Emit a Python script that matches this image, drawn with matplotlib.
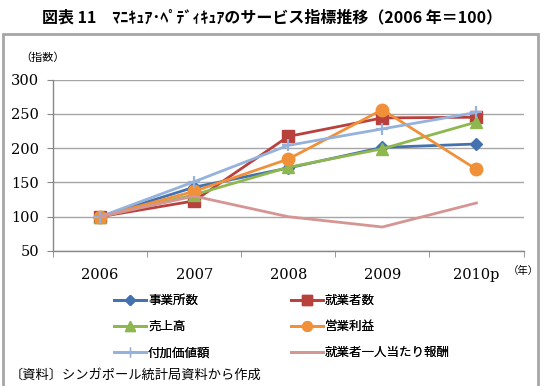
import matplotlib
matplotlib.use("Agg")
import matplotlib.pyplot as plt
from matplotlib.patches import Rectangle
from matplotlib.lines import Line2D

years = ["2006", "2007", "2008", "2009", "2010p"]
series_names = ["事業所数", "就業者数", "売上高", "営業利益", "付加価値額", "就業者一人当たり報酬"]
establishments = [100, 143, 171, 201, 206]
employees = [100, 123, 217, 244, 245]
sales = [100, 132, 172, 199, 238]
operating_profit = [100, 137, 184, 256, 169]
value_added = [100, 151, 204, 228, 252]
pay_per_worker = [100, 130, 100, 85, 120]
y_ticks = [50, 100, 150, 200, 250, 300]

series = [establishments, employees, sales, operating_profit, value_added, pay_per_worker]
colors = ["#4472B0", "#B8413E", "#8FB74F", "#F0913A", "#94B2DC", "#D59593"]
markers = ["D", "s", "^", "o", "+", None]
msizes = [6, 8, 8, 9, 9, 0]

JP = ["Noto Sans CJK JP", "DejaVu Sans"]
SERIF = ["DejaVu Serif"]

fig = plt.figure(figsize=(5.45, 3.86), dpi=100)
fig.patch.set_facecolor("white")

# outer frame
fig.patches.append(Rectangle((3/545, -0.01), (538-3)/545, 1 - 34/386 + 0.01,
                             transform=fig.transFigure, fill=False,
                             edgecolor="#a6a6a6", linewidth=2.0))

fig.text(0.5, 1 - 17/386, "図表 11　ﾏﾆｷｭｱ･ﾍﾟﾃﾞｨｷｭｱのサービス指標推移（2006 年＝100）",
         ha="center", va="center", fontsize=11.5, fontweight="bold", family=JP)

ax = fig.add_axes([53/545, 1 - 251/386, (523.5-53)/545, (251-79.5)/386])
x = list(range(len(years)))
for vals, c, m, ms, name in zip(series, colors, markers, msizes, series_names):
    mew = 1.6 if m == "+" else 1.0
    ax.plot(x, vals, color=c, linewidth=2.0, marker=m, markersize=ms,
            markeredgecolor=c, markerfacecolor=c, markeredgewidth=mew, label=name)

ax.set_xlim(-0.5, 4.5)
ax.set_ylim(50, 300)
ax.set_yticks(y_ticks)
ax.set_yticklabels([str(v) for v in y_ticks], family=SERIF, fontsize=10.5)
ax.set_xticks(x)
ax.set_xticklabels(years, family=SERIF, fontsize=10.5)
ax.set_xticks([i - 0.5 for i in range(len(years) + 1)], minor=True)
ax.tick_params(axis="x", which="major", length=0, pad=12)
ax.tick_params(axis="x", which="minor", length=4, color="#888888", direction="out")
ax.tick_params(axis="y", length=4, color="#888888", direction="out", pad=6)
ax.grid(axis="y", color="#a6a6a6", linewidth=1.0)
ax.set_axisbelow(True)
for s in ["top", "right"]:
    ax.spines[s].set_visible(False)
for s in ["left", "bottom"]:
    ax.spines[s].set_color("#888888")
    ax.spines[s].set_linewidth(1.0)

fig.text(20/545, 1 - 58/386, "（指数）", ha="left", va="center", fontsize=8, family=JP)
fig.text(508/545, 1 - 271/386, "（年）", ha="left", va="center", fontsize=7.5, family=JP)

leg_ms = [5, 7, 7, 7, 7, 0]
handles = [Line2D([0], [0], color=c, linewidth=2.0, marker=m, markersize=ms,
                  markeredgecolor=c, markerfacecolor=c)
           for c, m, ms in zip(colors, markers, leg_ms)]
fs = 9
pad_px = 0.4 * fs * 100 / 72
for col, x0 in enumerate([108, 285]):
    idx = [col, col + 2, col + 4]
    lg = fig.legend([handles[i] for i in idx], [series_names[i] for i in idx],
                    loc="center left", bbox_to_anchor=((x0 - pad_px) / 545, 1 - 326.7/386),
                    ncol=1, frameon=False, prop={"family": JP, "size": fs},
                    handlelength=2.5, labelspacing=1.05, handletextpad=0.2)
    fig.add_artist(lg)

fig.text(10/545, 1 - 375/386, "〔資料〕シンガポール統計局資料から作成", ha="left", va="center",
         fontsize=9.5, family=JP)

fig.savefig("out.png", dpi=100)
